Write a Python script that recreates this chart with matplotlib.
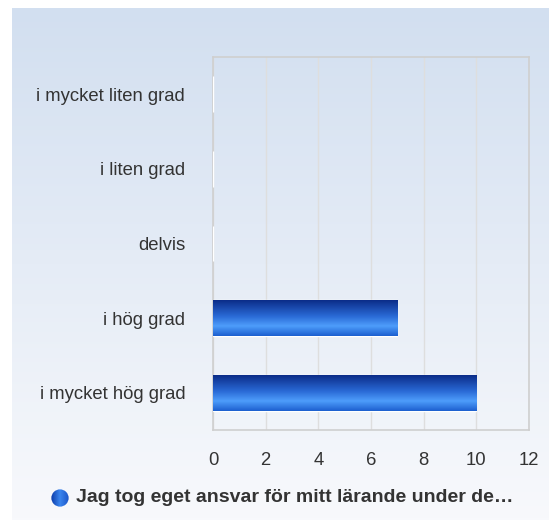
import numpy as np
import matplotlib.pyplot as plt
from matplotlib.colors import LinearSegmentedColormap
from matplotlib.patches import Circle

plt.rcParams['font.family'] = ['Liberation Sans', 'DejaVu Sans']

categories = ['i mycket liten grad', 'i liten grad', 'delvis', 'i hög grad', 'i mycket hög grad']
counts = [0, 0, 0, 7, 10]
xticks = [0, 2, 4, 6, 8, 10, 12]
series_name = 'Jag tog eget ansvar för mitt lärande under de…'

txt = '#333333'

fig = plt.figure(figsize=(5.49, 5.2), dpi=100)

# background panel with vertical gradient
bg = fig.add_axes([12/549, 0, 1 - 12/549, 512/520], zorder=-10)
bg_cmap = LinearSegmentedColormap.from_list('bg', ['#f8f9fc', '#d2dff0'])
bg.imshow(np.linspace(0, 1, 256).reshape(-1, 1), aspect='auto', cmap=bg_cmap,
          origin='lower', extent=[0, 1, 0, 1])
bg.axis('off')

ax = fig.add_axes([213/549, 90/520, 316/549, 373/520])
ax.patch.set_alpha(0)

y = np.arange(len(categories))
bars = ax.barh(y, counts, height=0.48, color='#2f6fd8', edgecolor='white',
               linewidth=1, zorder=3)

# colour from top of bar (0) to bottom (1)
bar_cmap = LinearSegmentedColormap.from_list(
    'bar', [(0, '#0b2c88'), (0.45, '#2a6ad6'), (0.72, '#4e9dfb'), (1, '#1c5fcf')])
grad = np.linspace(0, 1, 256).reshape(-1, 1)
for b in bars:
    if b.get_width() > 0:
        x0, y0 = b.get_x(), b.get_y()
        im = ax.imshow(grad, aspect='auto', cmap=bar_cmap, origin='upper',
                       extent=[x0, x0 + b.get_width(), y0 + b.get_height(), y0],
                       zorder=3.5)
        im.set_clip_path(b)

ax.set_xlim(0, 12)
ax.set_ylim(len(categories) - 0.5, -0.5)
ax.set_xticks(xticks)
ax.set_yticks(y)
ax.set_yticklabels(categories)
ax.tick_params(length=0, labelsize=13.3, colors=txt)
ax.tick_params(axis='x', pad=16)
ax.tick_params(axis='y', pad=20)
ax.grid(axis='x', color='#dedede', linewidth=1, zorder=0)
for s in ax.spines.values():
    s.set_color('#cfcfcf')
    s.set_linewidth(1.2)

# legend
fig.text(76/549, 1 - 498/520, series_name, fontsize=14, fontweight='bold',
         color=txt, va='center', ha='left')
lg = fig.add_axes([51/549, 1 - 507/520, 18/549, 18/520])
lg.axis('off')
lg_cmap = LinearSegmentedColormap.from_list('lg', ['#0b3aa8', '#3a85ee', '#1b55c8'])
circ = Circle((0.5, 0.5), 0.48, transform=lg.transData, facecolor='none')
lg.add_patch(circ)
im = lg.imshow(np.linspace(0, 1, 256).reshape(1, -1), aspect='auto', cmap=lg_cmap,
               extent=[0, 1, 0, 1])
im.set_clip_path(circ)
lg.set_xlim(0, 1)
lg.set_ylim(0, 1)

fig.savefig('out.png', dpi=100)
